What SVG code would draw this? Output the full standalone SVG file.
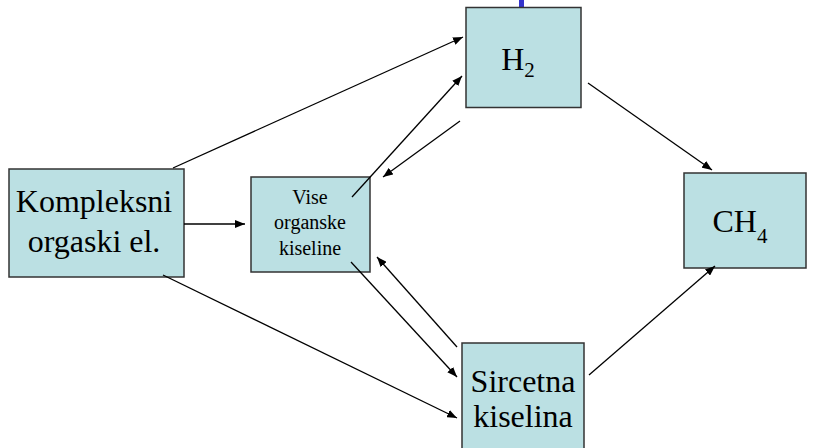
<svg xmlns="http://www.w3.org/2000/svg" width="817" height="448" viewBox="0 0 817 448">
<style>
.box{fill:#bbe0e3;stroke:#333;stroke-width:1.5}
text{font-family:"Liberation Serif","Times New Roman",serif;fill:#000;text-anchor:middle}
.big{font-size:32px}
.sm{font-size:20px}
.sub{font-size:21px}
.c line{stroke:#000;stroke-width:1.3;fill:none}
.c line.a{marker-end:url(#ah)}
</style>
<defs>
<marker id="ah" viewBox="0 0 10 8" refX="10" refY="4" markerWidth="10" markerHeight="8" markerUnits="userSpaceOnUse" orient="auto">
<path d="M0,0 L10,4 L0,8 z" fill="#000"/>
</marker>
</defs>
<rect x="519" y="0" width="5" height="8" fill="#3333cc"/>
<g id="h2">
<rect class="box" x="466" y="7.5" width="115" height="100"/>
<text class="big" font-family="Liberation Serif, serif" x="518" y="70">H<tspan class="sub" dy="7">2</tspan></text>
</g>
<g id="kompleksni">
<rect class="box" x="9" y="169" width="175" height="108"/>
<text class="big" font-family="Liberation Serif, serif" x="94" y="212">Kompleksni</text>
<text class="big" font-family="Liberation Serif, serif" x="94" y="252">orgaski el.</text>
</g>
<g id="vise">
<rect class="box" x="251" y="177" width="119" height="95"/>
<text class="sm" font-family="Liberation Serif, serif" x="310" y="204">Vise</text>
<text class="sm" font-family="Liberation Serif, serif" x="310" y="229">organske</text>
<text class="sm" font-family="Liberation Serif, serif" x="310" y="255">kiseline</text>
</g>
<g id="ch4">
<rect class="box" x="684" y="173" width="122" height="95"/>
<text class="big" font-family="Liberation Serif, serif" x="740" y="232">CH<tspan class="sub" dy="11">4</tspan></text>
</g>
<g id="sircetna">
<rect class="box" x="462" y="343" width="122" height="110"/>
<text class="big" font-family="Liberation Serif, serif" x="523" y="392">Sircetna</text>
<text class="big" font-family="Liberation Serif, serif" x="523" y="427">kiselina</text>
</g>
<g class="c" id="connectors">
<line class="a" x1="173" y1="168" x2="463" y2="37"/>
<line class="a" x1="184" y1="224" x2="245" y2="224"/>
<line class="a" x1="163" y1="275" x2="457" y2="418"/>
<line class="a" x1="352" y1="197" x2="462" y2="76"/>
<line class="a" x1="460" y1="121" x2="383" y2="177"/>
<line class="a" x1="588" y1="83" x2="712" y2="170"/>
<line class="a" x1="351" y1="262" x2="457" y2="377"/>
<line class="a" x1="457" y1="347" x2="377" y2="257"/>
<line class="a" x1="589" y1="375" x2="715" y2="266"/>
</g>
</svg>
